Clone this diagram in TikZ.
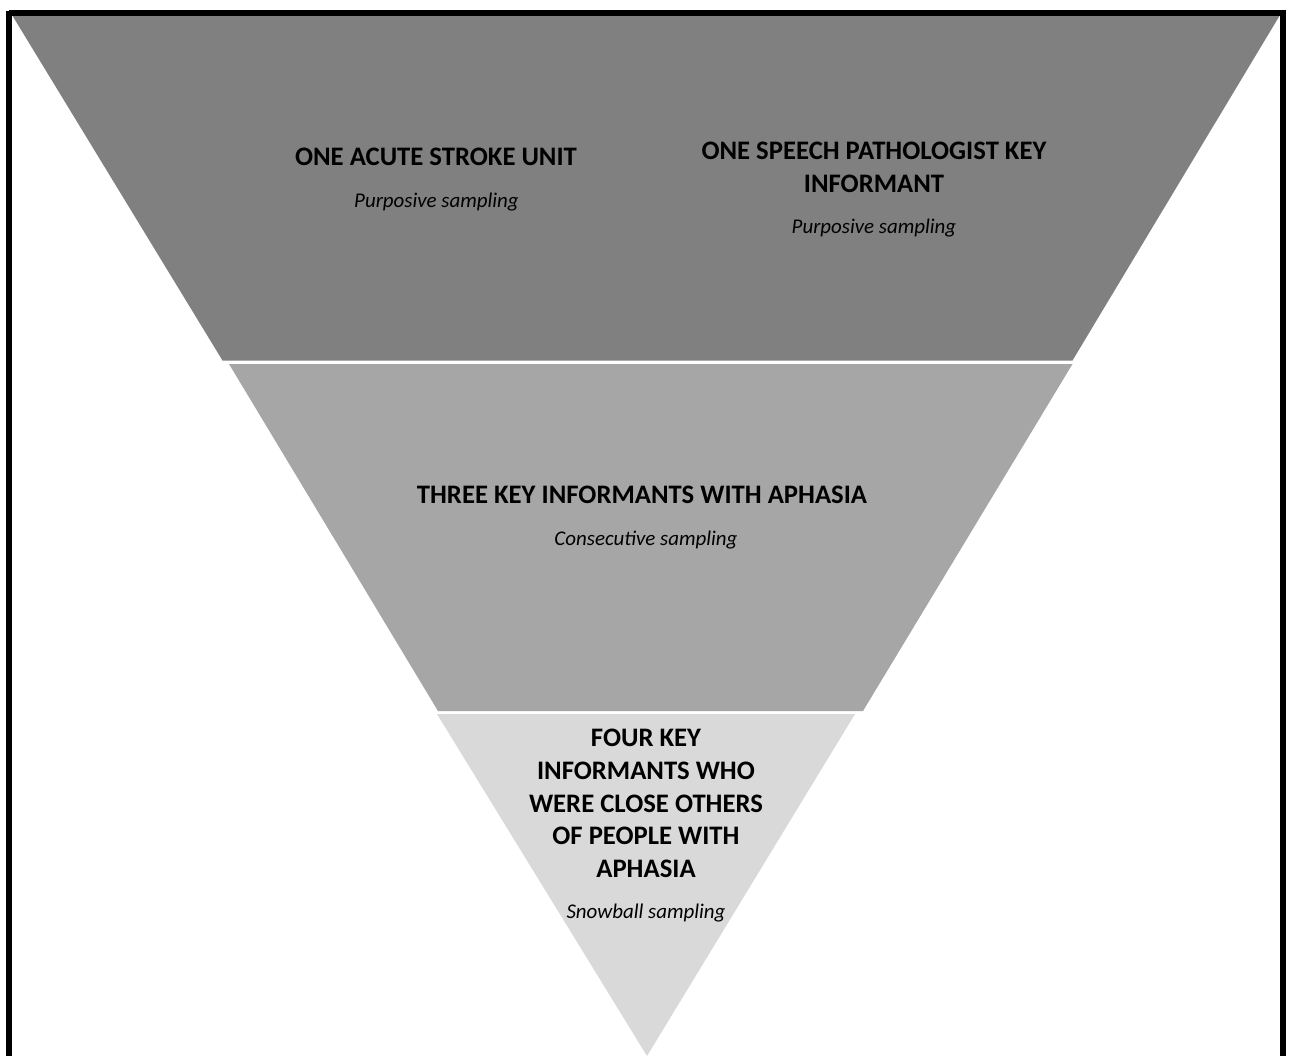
\documentclass[tikz,border=0pt]{standalone}
\usepackage{fontspec}
\setmainfont{Carlito}
\begin{document}
\begin{tikzpicture}[x=1bp,y=-1bp,
  head/.style={font=\bfseries\fontsize{26.8}{32.8}\selectfont, align=center, text=black, inner sep=0pt},
  method/.style={font=\itshape\fontsize{21}{24}\selectfont, text=black, inner sep=0pt}]
\useasboundingbox (0,0) rectangle (1290,1056);
\clip (0,0) rectangle (1290,1056);
\definecolor{bandA}{RGB}{128,128,128}
\definecolor{bandB}{RGB}{166,166,166}
\definecolor{bandC}{RGB}{217,217,217}
\fill[white] (0,0) rectangle (1290,1056);
% three bands of the inverted pyramid
\fill[bandA] (12,15) -- (1280,15) -- (1072.5,360.5) -- (222.5,360.5) -- cycle;
\fill[bandB] (229,364) -- (1072.5,364) -- (863,711) -- (438,711) -- cycle;
\fill[bandC] (437,714) -- (855,714) -- (647,1056) -- cycle;
% outer frame, open at the bottom edge
\draw[line width=6bp] (9,13) -- (1283,13) -- (1283,1080);
\draw[line width=6bp] (9,10.5) -- (9,1080);
% labels
\node[head] (unit) at (436,157) {ONE ACUTE STROKE UNIT};
\node[method] (unitm) at (436.5,202) {Purposive sampling};
\node[head] (sp) at (874,167.5) {ONE SPEECH PATHOLOGIST KEY\\INFORMANT};
\node[method] (spm) at (874,228) {Purposive sampling};
\node[head] (pwa) at (642,495) {THREE KEY INFORMANTS WITH APHASIA};
\node[method] (pwam) at (646,540) {Consecutive sampling};
\node[head] (co) at (646,803.5) {FOUR KEY\\INFORMANTS WHO\\WERE CLOSE OTHERS\\OF PEOPLE WITH\\APHASIA};
\node[method] (com) at (646,913) {Snowball sampling};
\end{tikzpicture}
\end{document}
